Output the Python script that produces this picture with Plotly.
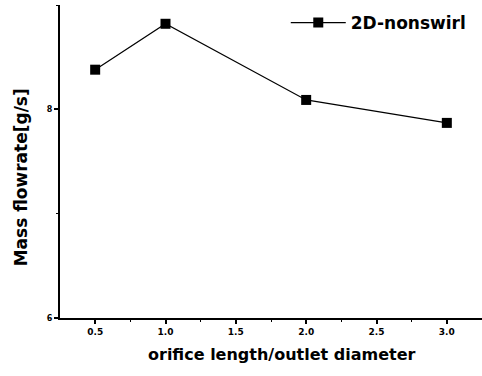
import plotly.graph_objects as go

ratio = [0.5, 1.0, 2.0, 3.0]
flow = [8.38, 8.82, 8.09, 7.87]
series_name = "2D-nonswirl"

fig = go.Figure()
fig.add_trace(go.Scatter(
    x=ratio, y=flow, mode="lines+markers", name=series_name,
    line=dict(color="black", width=1.2),
    marker=dict(symbol="square", size=10, color="black"),
))

font = "DejaVu Sans, Liberation Sans, sans-serif"
fig.update_layout(
    width=482, height=376,
    margin=dict(l=60, r=0, t=5, b=58),
    paper_bgcolor="white", plot_bgcolor="white",
    font=dict(family=font, color="black"),
    showlegend=True,
    legend=dict(x=0.535, y=1.0, xanchor="left", yanchor="top",
                itemwidth=55, bgcolor="rgba(0,0,0,0)",
                font=dict(size=17, family=font, weight="bold"),
                tracegroupgap=0),
    xaxis=dict(range=[0.25, 3.25], tickvals=[0.5, 1.0, 1.5, 2.0, 2.5, 3.0],
               ticktext=["0.5", "1.0", "1.5", "2.0", "2.5", "3.0"],
               ticks="outside", ticklen=4, tickwidth=1.5, tickcolor="black",
               minor=dict(tickvals=[0.75, 1.25, 1.75, 2.25, 2.75], ticks="outside",
                          ticklen=2, tickwidth=1, tickcolor="black"),
               showline=True, linecolor="black", linewidth=2, showgrid=False,
               zeroline=False,
               tickfont=dict(size=9, family=font, weight="bold")),
    yaxis=dict(range=[6, 9], tickvals=[6, 8], ticktext=["6", "8"],
               ticks="outside", ticklen=4, tickwidth=1.5, tickcolor="black",
               minor=dict(tickvals=[7, 9], ticks="outside", ticklen=2,
                          tickwidth=1, tickcolor="black"),
               showline=True, linecolor="black", linewidth=2, showgrid=False,
               zeroline=False,
               tickfont=dict(size=8, family=font, weight="bold")),
    annotations=[
        dict(text="Mass flowrate[g/s]", textangle=-90,
             xref="paper", yref="paper", x=-0.092, y=0.45,
             xanchor="center", yanchor="middle", showarrow=False,
             font=dict(size=17, family=font, weight="bold")),
        dict(text="orifice length/outlet diameter",
             xref="paper", yref="paper", x=0.526, y=-0.118,
             xanchor="center", yanchor="middle", showarrow=False,
             font=dict(size=16, family=font, weight="bold")),
    ],
)

fig.write_html("out.html")
